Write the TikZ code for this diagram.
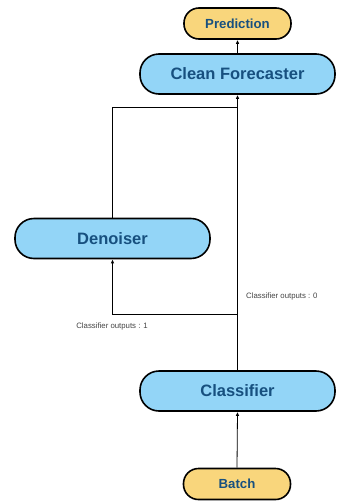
\documentclass[tikz,border=0pt]{standalone}
\usepackage{fontspec}
\setmainfont{Liberation Sans}
\usetikzlibrary{arrows.meta}
\definecolor{boxblue}{HTML}{93D5F7}
\definecolor{boxyellow}{HTML}{F9D67C}
\definecolor{txtblue}{HTML}{17507F}
\definecolor{lblgray}{HTML}{444444}
\tikzset{
  bigbox/.style={draw=black, line width=1.6pt, fill=boxblue, rounded corners=19pt,
    minimum width=195pt, minimum height=40pt, inner sep=0pt,
    font=\fontsize{16.5}{18}\selectfont\bfseries, text=txtblue},
  smallbox/.style={draw=black, line width=1.6pt, fill=boxyellow, rounded corners=15pt,
    minimum width=107pt, minimum height=31pt, inner sep=0pt,
    font=\fontsize{13.2}{15}\selectfont\bfseries, text=txtblue},
  conn/.style={draw=black, line width=0.8pt},
  arr/.style={conn, -{Latex[length=4pt,width=3.5pt]}},
  lbl/.style={font=\fontsize{7.8}{9}\selectfont, text=lblgray, inner sep=0pt}
}
\begin{document}
\begin{tikzpicture}[x=1pt,y=-1pt]
\useasboundingbox (0,0) rectangle (338,501);
\node[smallbox] (pred) at (237.5,23.5) {Prediction};
\node[bigbox] (clean) at (237.5,74) {Clean Forecaster};
\node[bigbox] (den) at (112.5,238.5) {Denoiser};
\node[bigbox] (cls) at (237.5,391) {Classifier};
\node[smallbox] (batch) at (237,484) {Batch};
\coordinate (join) at (237.5,107);
\coordinate (split) at (237.5,314);
\draw[arr] (clean.north) -- (pred.south);
\draw[arr] (batch.north) -- (cls.south);
\draw[arr] (cls.north) -- (clean.south);
\draw[conn] (den.north) |- (join);
\draw[arr] (split) -| (den.south);
\node[lbl, anchor=west] (l0) at (246,296) {Classifier outputs : 0};
\node[lbl] (l1) at (112,326) {Classifier outputs : 1};
\end{tikzpicture}
\end{document}
